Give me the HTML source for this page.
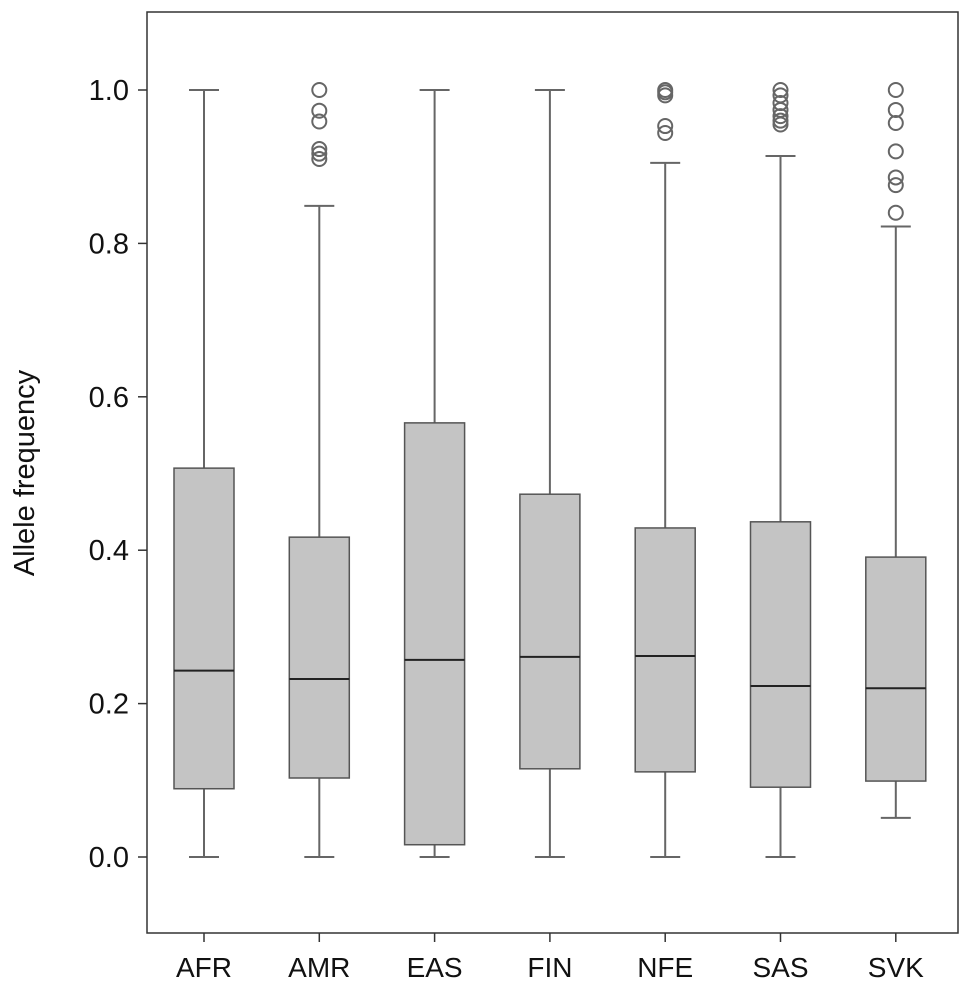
<!DOCTYPE html>
<html><head><meta charset="utf-8"><style>
html,body{margin:0;padding:0;background:#fff;}
svg{display:block;font-family:"Liberation Sans",Arial,sans-serif;}
</style></head><body>
<svg id="chart" width="969" height="992" viewBox="0 0 969 992">
<rect x="147" y="12" width="811" height="921" fill="none" stroke="#333" stroke-width="1.5"/>
<g id="yaxis"></g>
<g id="xaxis"></g>
<g id="boxes"></g>
<text x="34" y="473" transform="rotate(-90 34 473)" text-anchor="middle" font-size="29" fill="#111">Allele frequency</text>
</svg>
<script>
const categories = ["AFR","AMR","EAS","FIN","NFE","SAS","SVK"];
const whiskerLow = [0, 0, 0, 0, 0, 0, 0.051];
const q1 = [0.089, 0.103, 0.016, 0.115, 0.111, 0.091, 0.099];
const median = [0.243, 0.232, 0.257, 0.261, 0.262, 0.223, 0.220];
const q3 = [0.507, 0.417, 0.566, 0.473, 0.429, 0.437, 0.391];
const whiskerHigh = [1.0, 0.849, 1.0, 1.0, 0.905, 0.914, 0.822];
const outliers = [
  [],
  [1.0, 0.973, 0.959, 0.923, 0.917, 0.910],
  [],
  [],
  [1.0, 0.997, 0.993, 0.953, 0.944],
  [1.0, 0.993, 0.983, 0.974, 0.966, 0.960, 0.955],
  [1.0, 0.974, 0.957, 0.920, 0.886, 0.876, 0.840]
];
const yTicks = [0, 0.2, 0.4, 0.6, 0.8, 1.0];
const yTickLabels = ["0.0","0.2","0.4","0.6","0.8","1.0"];

const NS = "http://www.w3.org/2000/svg";
const y = v => 857 - v * 767;
const x = i => 204 + i * 115.3;
function mk(tag, attrs, parent){ const e=document.createElementNS(NS,tag); for(const k in attrs) e.setAttribute(k,attrs[k]); parent.appendChild(e); return e; }
const ya = document.getElementById("yaxis");
yTicks.forEach((t,i)=>{
  const l = mk("line",{x1:138,x2:147,y1:y(t),y2:y(t),stroke:"#333","stroke-width":1.5},ya);
  
  
  const tx = mk("text",{x:129,y:y(t)+10,"text-anchor":"end","font-size":29,fill:"#111"},ya);
  tx.textContent = yTickLabels[i];
  
  
});
const xa = document.getElementById("xaxis");
const bx = document.getElementById("boxes");
categories.forEach((c,i)=>{
  const cx = x(i);
  const tk = mk("line",{x1:cx,x2:cx,y1:933,y2:942,stroke:"#333","stroke-width":1.5},xa);
  
  
  const tx = mk("text",{x:cx,y:977,"text-anchor":"middle","font-size":28,fill:"#111"},xa);
  tx.textContent = c;
  
  
  const g = mk("g",{},bx);
  
  
  const st = {stroke:"#666","stroke-width":2};
  mk("line",Object.assign({x1:cx,x2:cx,y1:y(q3[i]),y2:y(whiskerHigh[i])},st),g);
  mk("line",Object.assign({x1:cx,x2:cx,y1:y(q1[i]),y2:y(whiskerLow[i])},st),g);
  mk("line",Object.assign({x1:cx-15,x2:cx+15,y1:y(whiskerHigh[i]),y2:y(whiskerHigh[i])},st),g);
  mk("line",Object.assign({x1:cx-15,x2:cx+15,y1:y(whiskerLow[i]),y2:y(whiskerLow[i])},st),g);
  mk("rect",{x:cx-30,y:y(q3[i]),width:60,height:y(q1[i])-y(q3[i]),fill:"#c4c4c4",stroke:"#555","stroke-width":1.5},g);
  mk("line",{x1:cx-30,x2:cx+30,y1:y(median[i]),y2:y(median[i]),stroke:"#222","stroke-width":2},g);
  outliers[i].forEach(v=>{
    const o = mk("circle",{cx:cx,cy:y(v),r:7,fill:"none",stroke:"#666","stroke-width":2},g);
    
    
  });
});
</script>
</body></html>
